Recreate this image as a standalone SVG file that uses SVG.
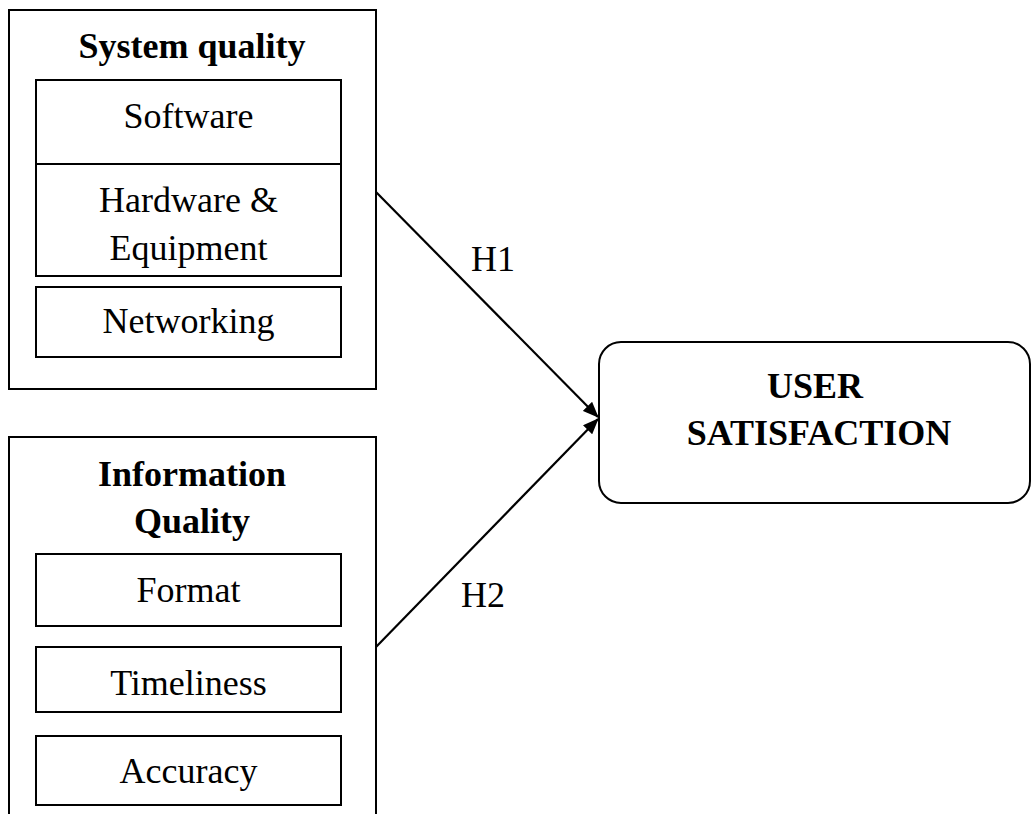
<svg xmlns="http://www.w3.org/2000/svg" width="1031" height="814" viewBox="0 0 1031 814">
<style>
.box{fill:#fff;stroke:#000;stroke-width:2}
.t{font-family:"Liberation Serif","Times New Roman",serif;font-size:36px;fill:#000;text-anchor:middle}
.b{font-weight:bold}
.c{stroke:#000;stroke-width:2.2;fill:none}
</style>
<defs>
<marker id="ah" viewBox="0 0 16 13" refX="15" refY="6.5" markerWidth="16" markerHeight="13" markerUnits="userSpaceOnUse" orient="auto">
<path d="M0,0 L16,6.5 L0,13 Z" fill="#000"/>
</marker>
</defs>
<rect width="1031" height="814" fill="#fff"/>
<g id="system-quality">
<rect class="box" x="9" y="10" width="367" height="379"/>
<text class="t b" x="192" y="58">System quality</text>
<rect class="box" x="36" y="80" width="305" height="84"/>
<text class="t" x="188.5" y="128">Software</text>
<rect class="box" x="36" y="164" width="305" height="112"/>
<text class="t" x="188.5" y="212">Hardware &amp;</text>
<text class="t" x="188.5" y="260">Equipment</text>
<rect class="box" x="36" y="287" width="305" height="70"/>
<text class="t" x="188.5" y="333">Networking</text>
</g>
<g id="information-quality">
<rect class="box" x="9" y="437" width="367" height="400"/>
<text class="t b" x="192" y="486">Information</text>
<text class="t b" x="192" y="533">Quality</text>
<rect class="box" x="36" y="554" width="305" height="72"/>
<text class="t" x="188.5" y="602">Format</text>
<rect class="box" x="36" y="647" width="305" height="65"/>
<text class="t" x="188.5" y="695">Timeliness</text>
<rect class="box" x="36" y="736" width="305" height="69"/>
<text class="t" x="188.5" y="783">Accuracy</text>
</g>
<g id="user-satisfaction">
<rect class="box" x="599" y="342" width="431" height="161" rx="22" ry="22"/>
<text class="t b" x="815" y="398">USER</text>
<text class="t b" x="819" y="445">SATISFACTION</text>
</g>
<g id="connectors">
<line class="c" x1="376" y1="192" x2="598" y2="417" marker-end="url(#ah)"/>
<line class="c" x1="376" y1="647" x2="598" y2="419" marker-end="url(#ah)"/>
<text class="t" x="493" y="271">H1</text>
<text class="t" x="483" y="607">H2</text>
</g>
</svg>
